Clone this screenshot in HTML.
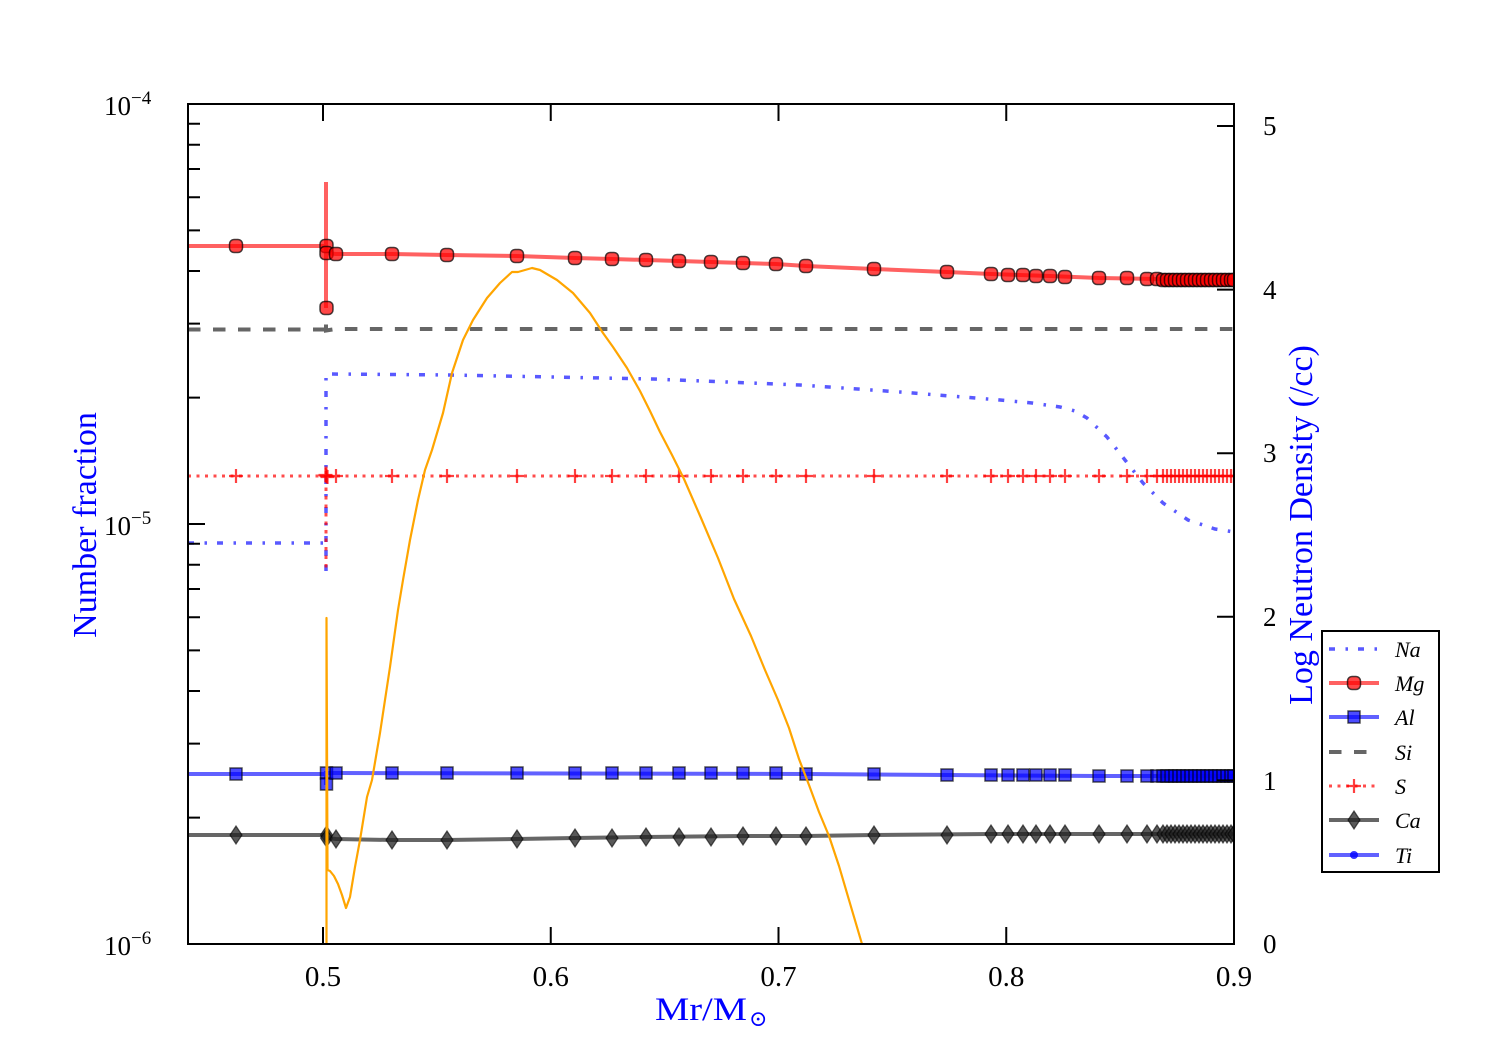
<!DOCTYPE html>
<html><head><meta charset="utf-8"><style>
html,body{margin:0;padding:0;background:#fff;}
svg{display:block;}
text{font-family:"Liberation Serif","DejaVu Serif",serif;}
</style></head><body>
<svg width="1500" height="1050" viewBox="0 0 1500 1050" xmlns="http://www.w3.org/2000/svg">
<defs>
<clipPath id="ax"><rect x="188" y="104" width="1046" height="840"/></clipPath>
<g id="mg"><rect x="-6.5" y="-6.5" width="13" height="13" rx="4.5" fill="#ff0000" fill-opacity="0.72" stroke="#000" stroke-opacity="0.7" stroke-width="1.5"/></g>
<g id="al"><rect x="-6" y="-6" width="12" height="12" fill="#0000ff" fill-opacity="0.7" stroke="#000" stroke-opacity="0.65" stroke-width="1.5"/></g>
<g id="ca"><polygon points="0,-9 6,0 0,9 -6,0" fill="#222" fill-opacity="0.75" stroke="#000" stroke-opacity="0.6" stroke-width="1.2"/></g>
<g id="sp"><path d="M-7 0H7M0 -7V7" stroke="#ff0000" stroke-opacity="0.75" stroke-width="2.2" fill="none"/></g>
<g id="ti"><circle r="4" fill="#0000ff" fill-opacity="0.8"/></g>
</defs>

<g clip-path="url(#ax)" fill="none">
<path d="M188 329.5H326V321V330.5L336 329H1234" stroke="#555" stroke-opacity="0.9" stroke-width="4" stroke-dasharray="12.5 12.5"/>
<path d="M188 543H326V575V374L330 374L450 375L653 379L800 385L900 392L1000 400L1032 403L1060 407L1075 411L1087 418L1107 437L1125 460L1143 483L1163 503L1188 520L1215 529L1234 532" stroke="#0000ff" stroke-opacity="0.65" stroke-width="3.5" stroke-dasharray="6 10.5 2.5 10"/>
<path d="M188 476H326V466V570V476H1234" stroke="#ff0000" stroke-opacity="0.7" stroke-width="3" stroke-dasharray="3 5.5"/>
<path d="M188 246H326V182V308V253L336 254L392 254L447 255L517 256L575 258L612 259L646 260L679 261L711 262L743 263L776 264L806 266L874 269L947 272L991 274L1050 276L1099 278L1157 279L1234 280" stroke="#ff0000" stroke-opacity="0.62" stroke-width="4"/>
<path d="M188 774H326V785V773L336 773L806 774L947 775L1099 776L1234 776" stroke="#0000ff" stroke-opacity="0.62" stroke-width="4"/>
<path d="M188 835H326V838L336 839L392 840L447 840L517 839L575 838L646 837L743 836L806 836L874 835L991 834L1234 834" stroke="#333" stroke-opacity="0.75" stroke-width="4"/>

<g>
<use href="#mg" x="236" y="246"/><use href="#mg" x="326.5" y="246"/><use href="#mg" x="326.5" y="253"/><use href="#mg" x="326.5" y="308"/>
<use href="#mg" x="336" y="254"/><use href="#mg" x="392" y="254"/><use href="#mg" x="447" y="255"/><use href="#mg" x="517" y="256"/>
<use href="#mg" x="575" y="258"/><use href="#mg" x="612" y="259"/><use href="#mg" x="646" y="260"/><use href="#mg" x="679" y="261"/>
<use href="#mg" x="711" y="262"/><use href="#mg" x="743" y="263"/><use href="#mg" x="776" y="264"/><use href="#mg" x="806" y="266"/>
<use href="#mg" x="874" y="269"/><use href="#mg" x="947" y="272"/><use href="#mg" x="991" y="274"/><use href="#mg" x="1008" y="275"/>
<use href="#mg" x="1023" y="275"/><use href="#mg" x="1036" y="276"/><use href="#mg" x="1050" y="276"/><use href="#mg" x="1065" y="277"/>
<use href="#mg" x="1099" y="278"/><use href="#mg" x="1127" y="278"/><use href="#mg" x="1147" y="279"/><use href="#mg" x="1157" y="279"/>
<use href="#mg" x="1163" y="280"/><use href="#mg" x="1167" y="280"/><use href="#mg" x="1171" y="280"/><use href="#mg" x="1175" y="280"/>
<use href="#mg" x="1179" y="280"/><use href="#mg" x="1183" y="280"/><use href="#mg" x="1187" y="280"/><use href="#mg" x="1191" y="280"/>
<use href="#mg" x="1195" y="280"/><use href="#mg" x="1199" y="280"/><use href="#mg" x="1203" y="280"/><use href="#mg" x="1207" y="280"/>
<use href="#mg" x="1211" y="280"/><use href="#mg" x="1215" y="280"/><use href="#mg" x="1219" y="280"/><use href="#mg" x="1223" y="280"/>
<use href="#mg" x="1227" y="280"/><use href="#mg" x="1231" y="280"/><use href="#mg" x="1234" y="280"/>
</g>
<g>
<use href="#al" x="236" y="774"/><use href="#al" x="326.5" y="773"/><use href="#al" x="326.5" y="784"/>
<use href="#al" x="336" y="773"/><use href="#al" x="392" y="773"/><use href="#al" x="447" y="773"/><use href="#al" x="517" y="773"/>
<use href="#al" x="575" y="773"/><use href="#al" x="612" y="773"/><use href="#al" x="646" y="773"/><use href="#al" x="679" y="773"/>
<use href="#al" x="711" y="773"/><use href="#al" x="743" y="773"/><use href="#al" x="776" y="773"/><use href="#al" x="806" y="774"/>
<use href="#al" x="874" y="774"/><use href="#al" x="947" y="775"/><use href="#al" x="991" y="775"/><use href="#al" x="1008" y="775"/>
<use href="#al" x="1023" y="775"/><use href="#al" x="1036" y="775"/><use href="#al" x="1050" y="775"/><use href="#al" x="1065" y="775"/>
<use href="#al" x="1099" y="776"/><use href="#al" x="1127" y="776"/><use href="#al" x="1147" y="776"/><use href="#al" x="1157" y="776"/>
<use href="#al" x="1163" y="776"/><use href="#al" x="1167" y="776"/><use href="#al" x="1171" y="776"/><use href="#al" x="1175" y="776"/>
<use href="#al" x="1179" y="776"/><use href="#al" x="1183" y="776"/><use href="#al" x="1187" y="776"/><use href="#al" x="1191" y="776"/>
<use href="#al" x="1195" y="776"/><use href="#al" x="1199" y="776"/><use href="#al" x="1203" y="776"/><use href="#al" x="1207" y="776"/>
<use href="#al" x="1211" y="776"/><use href="#al" x="1215" y="776"/><use href="#al" x="1219" y="776"/><use href="#al" x="1223" y="776"/>
<use href="#al" x="1227" y="776"/><use href="#al" x="1231" y="776"/><use href="#al" x="1234" y="776"/>
</g>
<g>
<use href="#ca" x="236" y="835"/><use href="#ca" x="326.5" y="835"/><use href="#ca" x="326.5" y="838"/>
<use href="#ca" x="336" y="839"/><use href="#ca" x="392" y="840"/><use href="#ca" x="447" y="840"/><use href="#ca" x="517" y="839"/>
<use href="#ca" x="575" y="838"/><use href="#ca" x="612" y="838"/><use href="#ca" x="646" y="837"/><use href="#ca" x="679" y="837"/>
<use href="#ca" x="711" y="837"/><use href="#ca" x="743" y="836"/><use href="#ca" x="776" y="836"/><use href="#ca" x="806" y="836"/>
<use href="#ca" x="874" y="835"/><use href="#ca" x="947" y="835"/><use href="#ca" x="991" y="834"/><use href="#ca" x="1008" y="834"/>
<use href="#ca" x="1023" y="834"/><use href="#ca" x="1036" y="834"/><use href="#ca" x="1050" y="834"/><use href="#ca" x="1065" y="834"/>
<use href="#ca" x="1099" y="834"/><use href="#ca" x="1127" y="834"/><use href="#ca" x="1147" y="834"/><use href="#ca" x="1157" y="834"/>
<use href="#ca" x="1163" y="834"/><use href="#ca" x="1167" y="834"/><use href="#ca" x="1171" y="834"/><use href="#ca" x="1175" y="834"/>
<use href="#ca" x="1179" y="834"/><use href="#ca" x="1183" y="834"/><use href="#ca" x="1187" y="834"/><use href="#ca" x="1191" y="834"/>
<use href="#ca" x="1195" y="834"/><use href="#ca" x="1199" y="834"/><use href="#ca" x="1203" y="834"/><use href="#ca" x="1207" y="834"/>
<use href="#ca" x="1211" y="834"/><use href="#ca" x="1215" y="834"/><use href="#ca" x="1219" y="834"/><use href="#ca" x="1223" y="834"/>
<use href="#ca" x="1227" y="834"/><use href="#ca" x="1231" y="834"/><use href="#ca" x="1234" y="834"/>
</g>
<g>
<use href="#sp" x="236" y="476"/><use href="#sp" x="326.5" y="476"/><use href="#sp" x="325.5" y="475"/><use href="#sp" x="327.5" y="477"/>
<use href="#sp" x="336" y="476"/><use href="#sp" x="392" y="476"/><use href="#sp" x="447" y="476"/><use href="#sp" x="517" y="476"/>
<use href="#sp" x="575" y="476"/><use href="#sp" x="612" y="476"/><use href="#sp" x="646" y="476"/><use href="#sp" x="679" y="476"/>
<use href="#sp" x="711" y="476"/><use href="#sp" x="743" y="476"/><use href="#sp" x="776" y="476"/><use href="#sp" x="806" y="476"/>
<use href="#sp" x="874" y="476"/><use href="#sp" x="947" y="476"/><use href="#sp" x="991" y="476"/><use href="#sp" x="1008" y="476"/>
<use href="#sp" x="1023" y="476"/><use href="#sp" x="1036" y="476"/><use href="#sp" x="1050" y="476"/><use href="#sp" x="1065" y="476"/>
<use href="#sp" x="1099" y="476"/><use href="#sp" x="1127" y="476"/><use href="#sp" x="1147" y="476"/><use href="#sp" x="1157" y="476"/>
<use href="#sp" x="1163" y="476"/><use href="#sp" x="1167" y="476"/><use href="#sp" x="1171" y="476"/><use href="#sp" x="1175" y="476"/>
<use href="#sp" x="1179" y="476"/><use href="#sp" x="1183" y="476"/><use href="#sp" x="1187" y="476"/><use href="#sp" x="1191" y="476"/>
<use href="#sp" x="1195" y="476"/><use href="#sp" x="1199" y="476"/><use href="#sp" x="1203" y="476"/><use href="#sp" x="1207" y="476"/>
<use href="#sp" x="1211" y="476"/><use href="#sp" x="1215" y="476"/><use href="#sp" x="1219" y="476"/><use href="#sp" x="1223" y="476"/>
<use href="#sp" x="1227" y="476"/><use href="#sp" x="1231" y="476"/><use href="#sp" x="1234" y="476"/>
</g>

<path d="M326.5 944L326.5 618L327.5 870L330 871L334 876L338 884L342 895L346 908L350 897L355 867L360 840L367 797L372 780L380 733L390 667L398 610L403 580L410 540L418 500L425 470L432 450L443 413L452 373L463 340L473 320L487 298L500 283L512 272L518 272L532 268L540 270L557 280L573 293L590 313L603 333L613 347L627 368L640 391L650 411L660 432L672 455L684 479L701 518L718 558L734 599L751 636L765 670L778 700L789 728L799 759L809 785L819 812L829 836L839 866L849 900L862 944" stroke="#ffa500" stroke-width="2.2" stroke-linejoin="round"/>
</g>

<rect x="188" y="104" width="1046" height="840" fill="none" stroke="#000" stroke-width="2"/>

<g stroke="#000" stroke-width="2">
<path d="M323 944V927M550.75 944V927M778.5 944V927M1006.25 944V927"/>
<path d="M323 104V121M550.75 104V121M778.5 104V121M1006.25 104V121"/>
<path d="M188 524H205"/>
<path d="M188 397.6H200M188 323.6H200M188 271H200M188 230.4H200M188 197.2H200M188 169H200M188 144.7H200M188 123.8H200"/>
<path d="M188 817.6H200M188 743.6H200M188 691H200M188 650.4H200M188 617.2H200M188 589H200M188 564.7H200M188 543.8H200"/>
<path d="M1234 780.4H1217M1234 616.8H1217M1234 453.2H1217M1234 289.6H1217M1234 126H1217"/>
</g>

<g font-size="29" fill="#000" text-anchor="middle">
<text x="323" y="986">0.5</text>
<text x="550.75" y="986">0.6</text>
<text x="778.5" y="986">0.7</text>
<text x="1006.25" y="986">0.8</text>
<text x="1234" y="986">0.9</text>
</g>

<g fill="#000">
<text x="104" y="115" font-size="27">10<tspan font-size="19" dy="-11">−4</tspan></text>
<text x="104" y="535" font-size="27">10<tspan font-size="19" dy="-11">−5</tspan></text>
<text x="104" y="955" font-size="27">10<tspan font-size="19" dy="-11">−6</tspan></text>
</g>

<g font-size="27" fill="#000">
<text x="1263" y="953">0</text>
<text x="1263" y="790">1</text>
<text x="1263" y="626">2</text>
<text x="1263" y="462">3</text>
<text x="1263" y="299">4</text>
<text x="1263" y="135">5</text>
</g>

<text x="655" y="1020" font-size="33" fill="#0000ff" textLength="92" lengthAdjust="spacingAndGlyphs">Mr/M</text>
<text x="749" y="1026" font-size="22" fill="#0000ff">⊙</text>
<text transform="translate(96,525) rotate(-90)" font-size="34" fill="#0000ff" text-anchor="middle">Number fraction</text>
<text transform="translate(1312,525) rotate(-90)" font-size="34" fill="#0000ff" text-anchor="middle">Log Neutron Density (/cc)</text>

<rect x="1322" y="631" width="117" height="241" fill="#fff" stroke="#000" stroke-width="2"/>
<g fill="none">
<path d="M1329 649H1379" stroke="#0000ff" stroke-opacity="0.65" stroke-width="3.5" stroke-dasharray="6 10.5 2.5 10"/>
<path d="M1329 683H1379" stroke="#ff0000" stroke-opacity="0.62" stroke-width="4"/>
<path d="M1329 717H1379" stroke="#0000ff" stroke-opacity="0.62" stroke-width="4"/>
<path d="M1329 752H1379" stroke="#555" stroke-opacity="0.9" stroke-width="4" stroke-dasharray="12.5 12.5"/>
<path d="M1329 786H1379" stroke="#ff0000" stroke-opacity="0.7" stroke-width="3" stroke-dasharray="3 5.5"/>
<path d="M1329 820H1379" stroke="#333" stroke-opacity="0.75" stroke-width="4"/>
<path d="M1329 855H1379" stroke="#0000ff" stroke-opacity="0.62" stroke-width="4"/>
</g>
<use href="#mg" x="1354" y="683"/>
<use href="#al" x="1354" y="717"/>
<use href="#sp" x="1354" y="786"/>
<use href="#ca" x="1354" y="820"/>
<use href="#ti" x="1354" y="855"/>
<g font-size="22" font-style="italic" fill="#000">
<text x="1395" y="657">Na</text>
<text x="1395" y="691">Mg</text>
<text x="1395" y="725">Al</text>
<text x="1395" y="760">Si</text>
<text x="1395" y="794">S</text>
<text x="1395" y="828">Ca</text>
<text x="1395" y="863">Ti</text>
</g>
</svg>
</body></html>
